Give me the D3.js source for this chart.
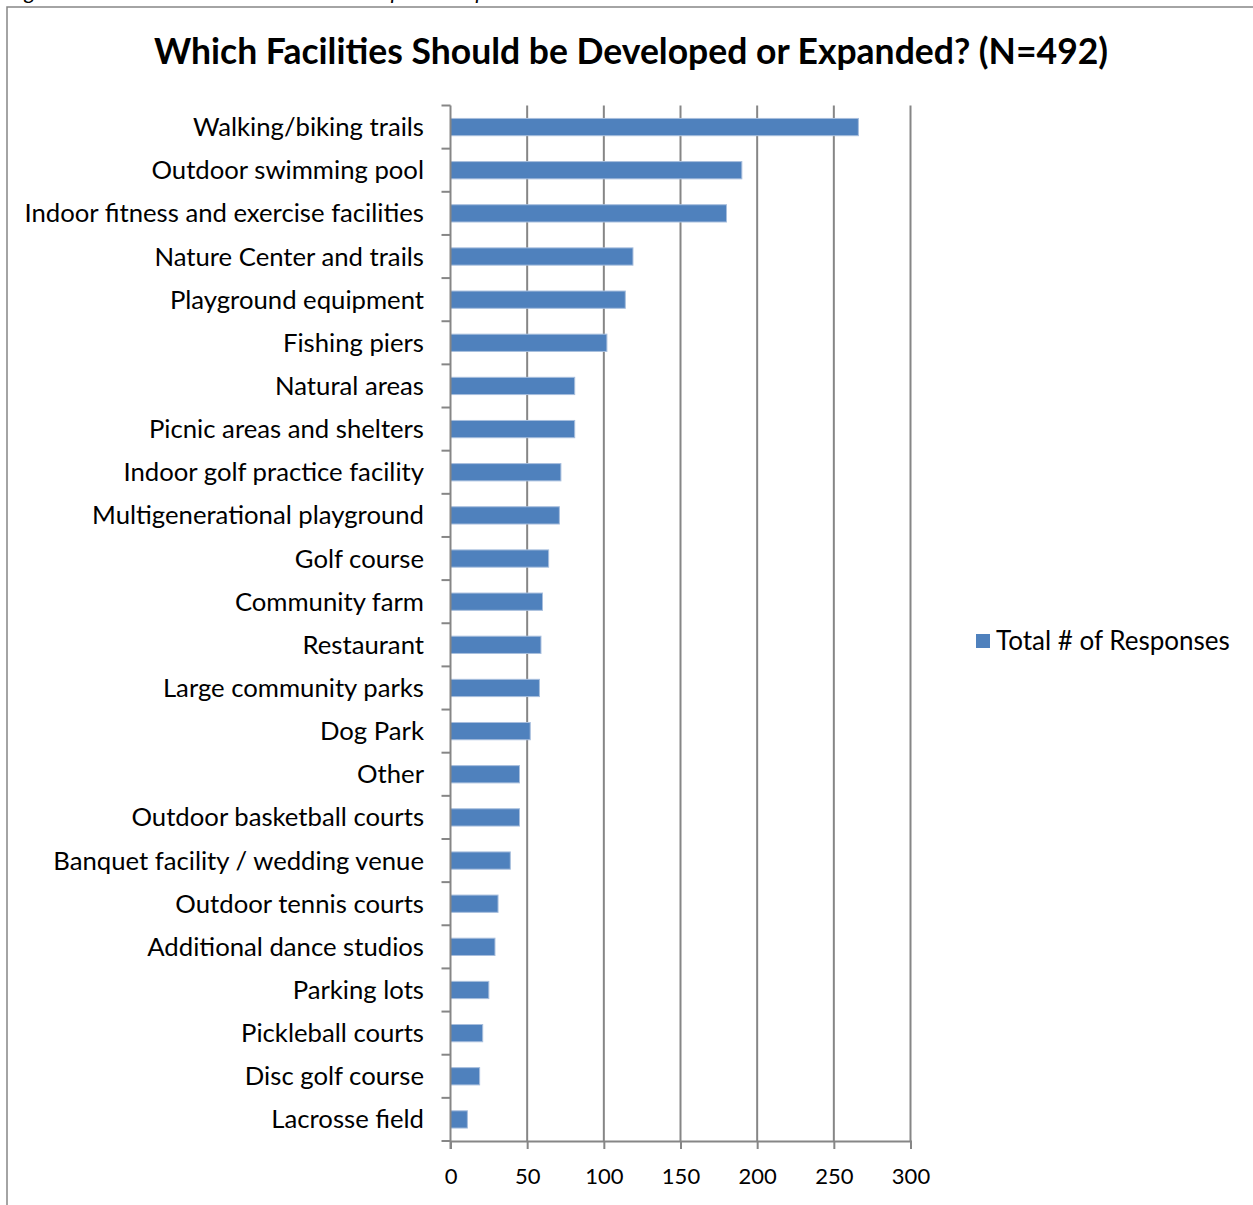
<!DOCTYPE html>
<html>
<head>
<meta charset="utf-8">
<script src="https://cdn.jsdelivr.net/npm/d3@7"></script>
<style>
  html, body { margin: 0; padding: 0; background: #fff; }
  svg { display: block; }
</style>
</head>
<body>
<svg id="chart" width="1253" height="1205"></svg>
<script>
// Facilities ranked by number of survey responses
const facilities = [
  "Walking/biking trails",
  "Outdoor swimming pool",
  "Indoor fitness and exercise facilities",
  "Nature Center and trails",
  "Playground equipment",
  "Fishing piers",
  "Natural areas",
  "Picnic areas and shelters",
  "Indoor golf practice facility",
  "Multigenerational playground",
  "Golf course",
  "Community farm",
  "Restaurant",
  "Large community parks",
  "Dog Park",
  "Other",
  "Outdoor basketball courts",
  "Banquet facility / wedding venue",
  "Outdoor tennis courts",
  "Additional dance studios",
  "Parking lots",
  "Pickleball courts",
  "Disc golf course",
  "Lacrosse field"
];
const responses = [266, 190, 180, 119, 114, 102, 81, 81, 72, 71, 64, 60, 59, 58, 52, 45, 45, 39, 31, 29, 25, 21, 19, 11];
const xTicks = [0, 50, 100, 150, 200, 250, 300];
const seriesName = "Total # of Responses";
const chartTitle = "Which Facilities Should be Developed or Expanded? (N=492)";

const FONT = "Lato, 'Open Sans', sans-serif";
const BAR = "#4F81BD";
const GRID = "#868686";

const svg = d3.select("#chart");

// caption line running above the frame (only its lowest strokes fall inside the page)
svg.append("text")
  .attr("x", 8).attr("y", -1)
  .attr("font-family", FONT).attr("font-style", "italic")
  .attr("font-size", 22).attr("fill", "#000")
  .text("Figure 12: Facilities that Should be Developed or Expanded");

// outer chart frame
svg.append("rect")
  .attr("x", 7).attr("y", 7)
  .attr("width", 1300).attr("height", 1300)
  .attr("fill", "none").attr("stroke", GRID).attr("stroke-width", 1.5);

const plot = { left: 450.5, right: 910.5, top: 105.5, bottom: 1141 };

const x = d3.scaleLinear().domain([0, 300]).range([plot.left, plot.right]);
const y = d3.scaleBand().domain(facilities).range([plot.top, plot.bottom])
  .paddingInner(0.6).paddingOuter(0.3);

// title
svg.append("text")
  .attr("x", 631).attr("y", 64)
  .attr("text-anchor", "middle")
  .attr("font-family", FONT).attr("font-weight", "bold")
  .attr("font-size", 35.5).attr("fill", "#000")
  .text(chartTitle);

// vertical gridlines
svg.append("g")
  .selectAll("line")
  .data(xTicks.slice(1))
  .join("line")
  .attr("x1", d => x(d)).attr("x2", d => x(d))
  .attr("y1", plot.top).attr("y2", plot.bottom)
  .attr("stroke", GRID).attr("stroke-width", 2);

// bars
svg.append("g")
  .selectAll("rect")
  .data(facilities)
  .join("rect")
  .attr("x", x(0))
  .attr("y", d => y(d))
  .attr("width", (d, i) => x(responses[i]) - x(0))
  .attr("height", y.bandwidth())
  .attr("fill", BAR)
  .attr("stroke", "#a7bedd").attr("stroke-width", 1);

// x axis
const xAxis = svg.append("g")
  .attr("transform", `translate(0,${plot.bottom})`)
  .call(d3.axisBottom(x).tickValues(xTicks).tickSize(8).tickPadding(19));
xAxis.select(".domain").attr("stroke", GRID).attr("stroke-width", 2);
xAxis.selectAll(".tick line").attr("stroke", GRID).attr("stroke-width", 2);
xAxis.selectAll(".tick text")
  .attr("font-family", FONT).attr("font-size", 22).attr("fill", "#000");

// y axis: ticks sit on band boundaries, labels at band centres
const yAxisG = svg.append("g");
const step = (plot.bottom - plot.top) / facilities.length;
yAxisG.append("line")
  .attr("x1", plot.left).attr("x2", plot.left)
  .attr("y1", plot.top).attr("y2", plot.bottom + 8)
  .attr("stroke", GRID).attr("stroke-width", 2);
yAxisG.selectAll("line.tk")
  .data(d3.range(facilities.length + 1))
  .join("line").attr("class", "tk")
  .attr("x1", plot.left - 9).attr("x2", plot.left)
  .attr("y1", i => plot.top + i * step).attr("y2", i => plot.top + i * step)
  .attr("stroke", GRID).attr("stroke-width", 2);
yAxisG.selectAll("text")
  .data(facilities)
  .join("text")
  .attr("x", 424)
  .attr("y", d => y(d) + y.bandwidth() / 2)
  .attr("dy", "0.35em")
  .attr("text-anchor", "end")
  .attr("font-family", FONT).attr("font-size", 25.7).attr("fill", "#000")
  .text(d => d);

// legend
const legend = svg.append("g").attr("transform", "translate(976,634)");
legend.append("rect")
  .attr("width", 14).attr("height", 14)
  .attr("fill", BAR);
legend.append("text")
  .attr("x", 20).attr("y", 7).attr("dy", "0.35em")
  .attr("font-family", FONT).attr("font-size", 26).attr("fill", "#000")
  .text(seriesName);
</script>
</body>
</html>
